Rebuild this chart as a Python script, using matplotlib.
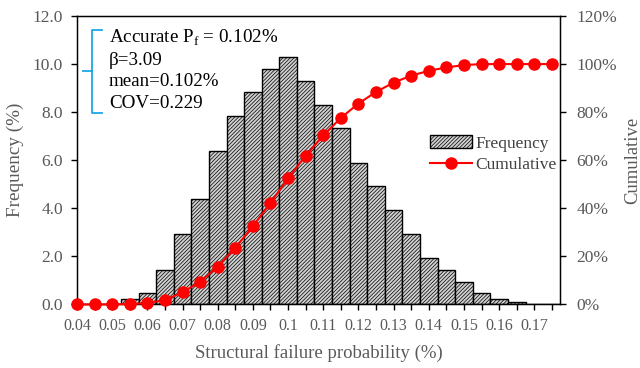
import matplotlib
matplotlib.use("Agg")
import matplotlib.pyplot as plt
from matplotlib.lines import Line2D
from matplotlib.ticker import FuncFormatter

# bin centres (failure probability, %)
x_vals = [0.04 + 0.005 * i for i in range(28)]
frequency = [0, 0, 0, 0.22, 0.47, 1.44, 2.94, 4.38, 6.37, 7.85, 8.84, 9.81, 10.3, 9.31,
             8.31, 7.34, 5.88, 4.91, 3.94, 2.92, 1.95, 1.44, 0.95, 0.47, 0.22, 0.09, 0, 0]
cumulative = [0, 0, 0, 0.2, 0.6, 1.8, 5.1, 9.4, 15.8, 23.6, 32.5, 42.3, 52.5, 61.9,
              70.3, 77.6, 83.6, 88.4, 92.3, 95.2, 97.2, 98.6, 99.6, 100, 100, 100, 100, 100]
x_labels = ["0.04", "0.05", "0.06", "0.07", "0.08", "0.09", "0.1", "0.11", "0.12",
            "0.13", "0.14", "0.15", "0.16", "0.17"]
stats_lines = ["Accurate P$_\\mathregular{f}$ = 0.102%", "\u03b2=3.09", "mean=0.102%", "COV=0.229"]

plt.rcParams["font.family"] = ["Liberation Serif", "DejaVu Serif"]
plt.rcParams["hatch.linewidth"] = 0.5

gray = "#595959"
fig = plt.figure(figsize=(6.4, 3.68), dpi=100)
fig.subplots_adjust(left=0.1203, right=0.875, bottom=0.1726, top=0.9565)
ax = fig.add_subplot(111)

bars = ax.bar(x_vals, frequency, width=0.005, color="#d0d0d0", edgecolor="black",
              linewidth=1.0, hatch="/" * 9, label="Frequency", zorder=2)

ax.set_xlim(0.04, 0.1773)
ax.set_ylim(0, 12)
ax.set_yticks([0, 2, 4, 6, 8, 10, 12])
ax.yaxis.set_major_formatter(FuncFormatter(lambda v, p: f"{v:.1f}"))
ax.set_xticks(x_vals)
ax.set_xticklabels([x_labels[i // 2] if i % 2 == 0 and i // 2 < len(x_labels) else ""
                    for i in range(len(x_vals))])
ax.tick_params(axis="both", direction="out", length=4, width=1, colors="black",
               labelcolor=gray)
ax.tick_params(axis="x", labelsize=11.5, pad=6)
ax.tick_params(axis="y", labelsize=12.5, pad=6)
for s in ax.spines.values():
    s.set_linewidth(1.0)
ax.set_xlabel("Structural failure probability (%)", fontsize=13.5, color=gray, labelpad=7)
ax.set_ylabel("Frequency (%)", fontsize=13.8, color=gray, labelpad=6)

ax2 = ax.twinx()
ax2.plot(x_vals, cumulative, color="red", linewidth=1.5, marker="o", markersize=8,
         label="Cumulative", clip_on=False, zorder=3)
ax2.set_ylim(0, 120)
ax2.set_yticks([0, 20, 40, 60, 80, 100, 120])
ax2.yaxis.set_major_formatter(FuncFormatter(lambda v, p: f"{v:.0f}%"))
ax2.tick_params(axis="y", direction="out", length=4, width=1, colors="black",
                labelcolor=gray, labelsize=12.5, pad=8)
ax2.set_ylabel("Cumulative", fontsize=13.4, color=gray, labelpad=5)

handles = [bars, ax2.get_lines()[0]]
leg = ax2.legend(handles, ["Frequency", "Cumulative"], loc="upper right",
                 bbox_to_anchor=(1.025, 0.64), frameon=False, fontsize=12.5,
                 handlelength=2.4, handletextpad=0.2, labelspacing=0.3)
for t in leg.get_texts():
    t.set_color("#404040")

# stats text with blue bracket
ax2.text(0.066, 0.96, "\n".join(stats_lines), transform=ax2.transAxes, fontsize=13.7,
         va="top", ha="left", linespacing=1.33, color="black")
bx, by0, by1, bym = 0.031, 0.665, 0.95, 0.81
bc = "#1aa7e8"
for xs, ys in [([0.052, bx, bx, 0.052], [by1, by1, by0, by0]),
               ([bx, 0.012], [bym, bym])]:
    ax2.add_line(Line2D(xs, ys, transform=ax2.transAxes, color=bc, linewidth=1.3))

fig.savefig("out.png", dpi=100)
